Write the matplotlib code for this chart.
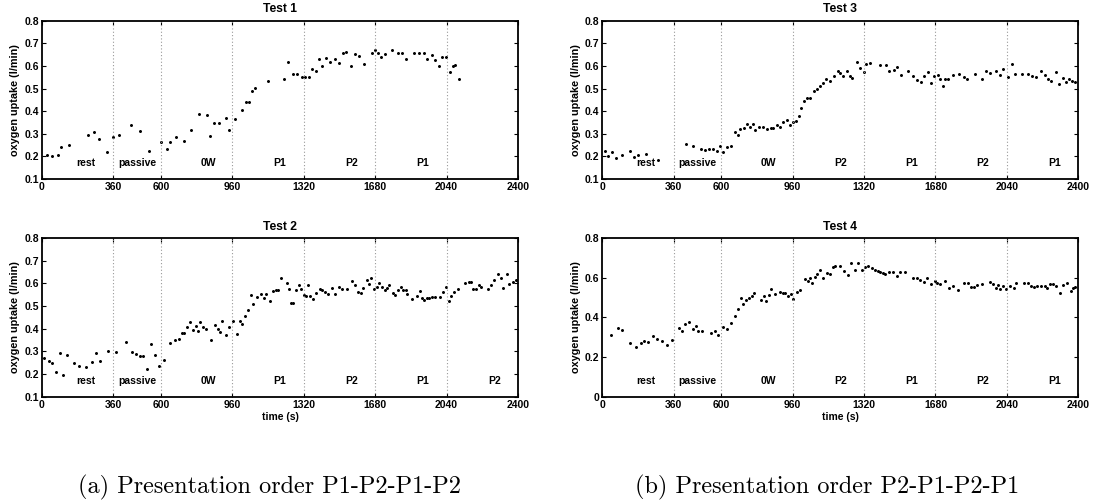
import matplotlib
matplotlib.use("Agg")
import matplotlib.pyplot as plt

# oxygen uptake readings (time in s, uptake in l/min)
t1_time = [24, 52, 81, 98, 138, 232, 261, 286, 328, 358, 389, 449, 493, 542,
           600, 629, 648, 674, 715, 752, 794, 831, 849, 868, 891, 927, 945,
           972, 1009, 1028, 1045, 1060, 1075, 1142, 1220, 1240, 1264, 1284,
           1309, 1324, 1345, 1360, 1380, 1397, 1412, 1432, 1454, 1476, 1497,
           1519, 1534, 1556, 1578, 1600, 1622, 1662, 1681, 1696, 1709, 1729,
           1765, 1795, 1813, 1835, 1876, 1899, 1928, 1943, 1966, 1984, 2001,
           2017, 2037, 2059, 2070, 2084, 2101]
t1_o2 = [0.206, 0.200, 0.206, 0.240, 0.250, 0.296, 0.310, 0.275, 0.219, 0.287,
         0.294, 0.341, 0.312, 0.226, 0.262, 0.234, 0.262, 0.285, 0.268, 0.315,
         0.388, 0.382, 0.291, 0.349, 0.349, 0.369, 0.318, 0.366, 0.406, 0.440,
         0.440, 0.487, 0.501, 0.532, 0.541, 0.615, 0.563, 0.563, 0.553, 0.553,
         0.553, 0.585, 0.579, 0.632, 0.600, 0.634, 0.619, 0.632, 0.612, 0.659,
         0.662, 0.601, 0.653, 0.644, 0.609, 0.659, 0.671, 0.659, 0.641, 0.651,
         0.671, 0.656, 0.656, 0.629, 0.656, 0.656, 0.659, 0.629, 0.649, 0.626,
         0.601, 0.641, 0.638, 0.574, 0.600, 0.604, 0.541]

t2_time = [12, 34, 52, 69, 91, 106, 128, 160, 187, 220, 254, 272, 294, 335,
           375, 422, 454, 476, 495, 511, 528, 552, 570, 589, 614, 644, 669,
           690, 705, 718, 730, 745, 762, 779, 789, 799, 812, 826, 851, 873,
           886, 898, 910, 927, 945, 965, 981, 996, 1008, 1023, 1039, 1053,
           1066, 1082, 1103, 1117, 1132, 1150, 1163, 1178, 1192, 1203, 1234,
           1246, 1256, 1267, 1283, 1296, 1306, 1319, 1331, 1340, 1353, 1368,
           1383, 1400, 1414, 1429, 1444, 1460, 1479, 1496, 1514, 1536, 1563,
           1576, 1595, 1607, 1620, 1637, 1649, 1657, 1672, 1687, 1701, 1714,
           1728, 1741, 1751, 1768, 1782, 1797, 1808, 1822, 1835, 1842, 1866,
           1893, 1905, 1914, 1925, 1940, 1950, 1965, 1982, 2005, 2024, 2037,
           2052, 2064, 2078, 2098, 2135, 2151, 2165, 2175, 2188, 2202, 2215,
           2247, 2262, 2279, 2301, 2316, 2326, 2343, 2357, 2377, 2390]
t2_o2 = [0.270, 0.258, 0.250, 0.209, 0.292, 0.197, 0.283, 0.249, 0.236, 0.230,
         0.253, 0.293, 0.258, 0.302, 0.299, 0.342, 0.298, 0.287, 0.281, 0.281,
         0.222, 0.333, 0.283, 0.237, 0.264, 0.336, 0.351, 0.356, 0.383, 0.383,
         0.408, 0.430, 0.393, 0.414, 0.392, 0.430, 0.409, 0.400, 0.351, 0.418,
         0.398, 0.386, 0.433, 0.373, 0.408, 0.436, 0.377, 0.436, 0.421, 0.455,
         0.483, 0.548, 0.510, 0.541, 0.554, 0.535, 0.554, 0.524, 0.567, 0.572,
         0.569, 0.622, 0.601, 0.575, 0.513, 0.513, 0.569, 0.594, 0.575, 0.547,
         0.545, 0.594, 0.544, 0.533, 0.557, 0.576, 0.570, 0.563, 0.552, 0.580,
         0.551, 0.586, 0.573, 0.573, 0.611, 0.594, 0.564, 0.557, 0.580, 0.616,
         0.595, 0.622, 0.575, 0.586, 0.600, 0.583, 0.572, 0.580, 0.592, 0.557,
         0.547, 0.569, 0.583, 0.572, 0.569, 0.552, 0.533, 0.545, 0.567, 0.536,
         0.527, 0.535, 0.535, 0.542, 0.539, 0.539, 0.560, 0.583, 0.524, 0.545,
         0.560, 0.575, 0.600, 0.605, 0.605, 0.575, 0.577, 0.592, 0.586, 0.575,
         0.594, 0.616, 0.642, 0.622, 0.580, 0.642, 0.597, 0.608, 0.613]

t3_time = [12, 30, 49, 67, 100, 141, 161, 179, 223, 283, 424, 456, 499, 516,
           536, 556, 578, 595, 610, 628, 648, 667, 682, 697, 714, 729, 745,
           759, 772, 789, 809, 829, 849, 861, 879, 898, 913, 933, 946, 961,
           978, 990, 1003, 1018, 1032, 1049, 1067, 1084, 1097, 1114, 1129,
           1150, 1166, 1187, 1200, 1215, 1234, 1247, 1261, 1282, 1299, 1318,
           1331, 1350, 1398, 1432, 1447, 1469, 1488, 1505, 1540, 1565, 1587,
           1607, 1621, 1640, 1657, 1674, 1691, 1704, 1718, 1729, 1743, 1766,
           1798, 1822, 1840, 1881, 1913, 1936, 1956, 1983, 2005, 2022, 2044,
           2064, 2081, 2116, 2148, 2168, 2188, 2210, 2230, 2247, 2264, 2287,
           2304, 2322, 2336, 2353, 2369, 2386]
t3_o2 = [0.226, 0.200, 0.218, 0.194, 0.206, 0.226, 0.199, 0.207, 0.209, 0.185,
         0.256, 0.244, 0.232, 0.229, 0.231, 0.232, 0.222, 0.244, 0.219, 0.240,
         0.244, 0.309, 0.296, 0.321, 0.324, 0.344, 0.332, 0.344, 0.318, 0.329,
         0.329, 0.321, 0.326, 0.324, 0.338, 0.332, 0.350, 0.359, 0.338, 0.353,
         0.356, 0.379, 0.412, 0.446, 0.456, 0.459, 0.487, 0.497, 0.512, 0.524,
         0.543, 0.534, 0.554, 0.578, 0.568, 0.557, 0.579, 0.557, 0.546, 0.619,
         0.590, 0.572, 0.607, 0.612, 0.606, 0.603, 0.578, 0.584, 0.597, 0.559,
         0.576, 0.554, 0.538, 0.528, 0.554, 0.572, 0.526, 0.554, 0.559, 0.544,
         0.509, 0.541, 0.544, 0.559, 0.565, 0.549, 0.540, 0.566, 0.541, 0.578,
         0.568, 0.576, 0.560, 0.585, 0.550, 0.610, 0.562, 0.563, 0.563, 0.557,
         0.550, 0.576, 0.560, 0.543, 0.534, 0.571, 0.522, 0.547, 0.531, 0.543,
         0.535, 0.531]

t4_time = [42, 79, 102, 142, 168, 196, 213, 231, 256, 276, 303, 325, 353, 387,
           400, 417, 436, 456, 472, 484, 504, 548, 566, 585, 611, 631, 647,
           668, 687, 698, 712, 727, 740, 754, 765, 801, 814, 826, 839, 853,
           873, 896, 910, 923, 938, 951, 963, 980, 997, 1022, 1035, 1050,
           1060, 1073, 1085, 1100, 1112, 1133, 1150, 1163, 1175, 1197, 1217,
           1240, 1255, 1274, 1292, 1309, 1323, 1341, 1359, 1373, 1388, 1402,
           1415, 1427, 1445, 1465, 1486, 1502, 1529, 1569, 1586, 1603, 1620,
           1637, 1656, 1676, 1688, 1701, 1728, 1748, 1768, 1792, 1822, 1842,
           1859, 1874, 1890, 1915, 1955, 1971, 1984, 1994, 2008, 2021, 2035,
           2055, 2075, 2088, 2125, 2149, 2164, 2176, 2193, 2213, 2230, 2243,
           2260, 2274, 2289, 2306, 2322, 2341, 2361, 2375, 2386]
t4_o2 = [0.313, 0.349, 0.337, 0.273, 0.250, 0.273, 0.282, 0.277, 0.305, 0.290,
         0.282, 0.263, 0.288, 0.347, 0.334, 0.369, 0.379, 0.342, 0.355, 0.334,
         0.334, 0.323, 0.329, 0.313, 0.350, 0.342, 0.374, 0.407, 0.441, 0.500,
         0.469, 0.486, 0.500, 0.510, 0.521, 0.488, 0.508, 0.483, 0.513, 0.545,
         0.516, 0.527, 0.521, 0.521, 0.508, 0.516, 0.493, 0.530, 0.537, 0.594,
         0.584, 0.600, 0.573, 0.604, 0.617, 0.641, 0.597, 0.624, 0.620, 0.654,
         0.657, 0.657, 0.634, 0.614, 0.674, 0.637, 0.674, 0.641, 0.654, 0.661,
         0.647, 0.641, 0.634, 0.629, 0.624, 0.617, 0.630, 0.627, 0.609, 0.626,
         0.626, 0.597, 0.597, 0.590, 0.580, 0.599, 0.567, 0.584, 0.575, 0.567,
         0.585, 0.550, 0.560, 0.540, 0.573, 0.573, 0.555, 0.552, 0.563, 0.567,
         0.577, 0.567, 0.550, 0.562, 0.545, 0.557, 0.545, 0.557, 0.550, 0.573,
         0.573, 0.573, 0.560, 0.553, 0.557, 0.557, 0.560, 0.550, 0.567, 0.570,
         0.560, 0.523, 0.563, 0.573, 0.533, 0.547, 0.553]

phase_edges = [360, 600, 960, 1320, 1680, 2040]
x_ticks = [0, 360, 600, 960, 1320, 1680, 2040, 2400]
label_x = [220, 480, 840, 1200, 1560, 1920, 2280]
phases_a = ["rest", "passive", "0W", "P1", "P2", "P1", "P2"]
phases_b = ["rest", "passive", "0W", "P2", "P1", "P2", "P1"]

SANS = "Liberation Sans"


def make_panel(fig, rect, time, o2, title, phases, y_ticks, xlabel=False):
    ax = fig.add_axes(rect)
    ax.plot(time, o2, ".", color="black", markersize=2.3)
    for edge in phase_edges:
        ax.axvline(edge, color="#999999", linestyle=(0, (1, 2)), linewidth=0.8)
    for x, name in zip(label_x, phases):
        ax.text(x, 0.1, name, transform=ax.get_xaxis_transform(),
                ha="center", va="center", fontsize=7.5, fontweight="bold",
                family=SANS)

    ax.set_xlim(0, 2400)
    ax.set_ylim(y_ticks[0], y_ticks[-1])
    ax.set_xticks(x_ticks)
    ax.set_yticks(y_ticks)
    ax.set_yticklabels([f"{v:g}" for v in y_ticks])
    ax.tick_params(direction="in", top=True, right=True, length=3,
                   width=0.8, labelsize=7.5, pad=2)
    for lab in ax.get_xticklabels() + ax.get_yticklabels():
        lab.set_fontweight("bold")
        lab.set_family(SANS)
    for spine in ax.spines.values():
        spine.set_linewidth(1.3)

    ax.set_title(title, fontsize=8.7, fontweight="bold", family=SANS, pad=6)
    ax.set_ylabel("oxygen uptake (l/min)", fontsize=7.8, fontweight="bold",
                  family=SANS, labelpad=3)
    if xlabel:
        ax.set_xlabel("time (s)", fontsize=7.5, fontweight="bold", family=SANS,
                      labelpad=2)
    return ax


def main():
    fig = plt.figure(figsize=(10.93, 5.03), dpi=100)

    ticks_01 = [0.1, 0.2, 0.3, 0.4, 0.5, 0.6, 0.7, 0.8]
    ticks_00 = [0, 0.2, 0.4, 0.6, 0.8]

    w, h = 0.4355, 0.315
    make_panel(fig, [0.0384, 0.644, w, h], t1_time, t1_o2, "Test 1",
               phases_a[:6], ticks_01)
    make_panel(fig, [0.0384, 0.211, w, 0.316], t2_time, t2_o2, "Test 2",
               phases_a, ticks_01, xlabel=True)
    make_panel(fig, [0.551, 0.644, w, h], t3_time, t3_o2, "Test 3",
               phases_b, ticks_01)
    make_panel(fig, [0.551, 0.211, w, 0.316], t4_time, t4_o2, "Test 4",
               phases_b, ticks_00, xlabel=True)

    fig.text(269 / 1093, 1 - 493 / 503, "(a) Presentation order P1-P2-P1-P2",
             ha="center", va="baseline", fontsize=17.5, family="cmr10")
    fig.text(827 / 1093, 1 - 493 / 503, "(b) Presentation order P2-P1-P2-P1",
             ha="center", va="baseline", fontsize=17.5, family="cmr10")

    fig.savefig("out.png", dpi=100)


if __name__ == "__main__":
    main()
